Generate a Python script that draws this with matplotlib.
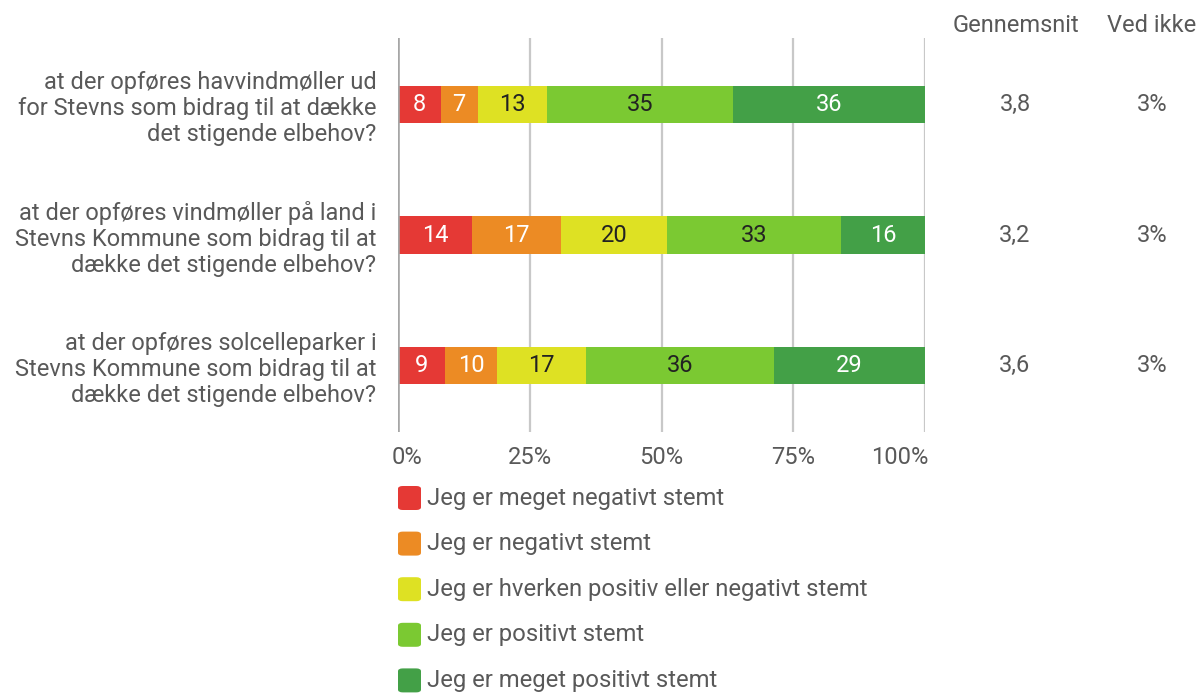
import matplotlib
matplotlib.use("Agg")
import matplotlib.pyplot as plt
from matplotlib.patches import FancyBboxPatch
from matplotlib.transforms import ScaledTranslation, blended_transform_factory
import numpy as np

plt.rcParams['font.family'] = ['Roboto', 'DejaVu Sans']

questions = [
    "at der opføres havvindmøller ud\nfor Stevns som bidrag til at dække\ndet stigende elbehov?",
    "at der opføres vindmøller på land i\nStevns Kommune som bidrag til at\ndække det stigende elbehov?",
    "at der opføres solcelleparker i\nStevns Kommune som bidrag til at\ndække det stigende elbehov?",
]
categories = [
    "Jeg er meget negativt stemt",
    "Jeg er negativt stemt",
    "Jeg er hverken positiv eller negativt stemt",
    "Jeg er positivt stemt",
    "Jeg er meget positivt stemt",
]
values = [
    [8, 7, 13, 35, 36],
    [14, 17, 20, 33, 16],
    [9, 10, 17, 36, 29],
]
averages = ["3,8", "3,2", "3,6"]
dont_know = ["3%", "3%", "3%"]
xticks = [0, 25, 50, 75, 100]
xticklabels = ["0%", "25%", "50%", "75%", "100%"]

colors = ["#E53935", "#EC8B24", "#DEE123", "#7BC932", "#43A047"]
label_colors = ["white", "white", "#222222", "#222222", "white"]
text_grey = "#595959"
FS = 17

W, H = 1200, 693
fig = plt.figure(figsize=(W / 100, H / 100), dpi=100)
ax = fig.add_axes([398 / W, 1 - 432 / H, 527 / W, 394 / H])

y = np.arange(len(questions))
for i, row in enumerate(values):
    total = sum(row)
    left = 0.0
    for j, v in enumerate(row):
        w = v / total * 100
        ax.barh(y[i], w, left=left, height=0.29, color=colors[j], zorder=3)
        ax.text(left + w / 2, y[i], str(v), ha="center", va="center",
                color=label_colors[j], fontsize=FS, zorder=4)
        left += w

ax.set_xlim(0, 100)
ax.set_ylim(2.51, -0.51)
for xt in xticks[1:]:
    ax.axvline(xt, color="#C8C8C8", lw=1.6, zorder=1)
ax.axvline(0, color="#A6A6A6", lw=2.6, zorder=5)
for s in ax.spines.values():
    s.set_visible(False)

# x tick labels: end labels kept inside the plotting range
ax.set_xticks([])
xlab_tr = blended_transform_factory(ax.transData, fig.transFigure)
for k, (xt, lab) in enumerate(zip(xticks, xticklabels)):
    ha = "center"
    off = 0
    if k == 0:
        ha, off = "left", -6
    elif k == len(xticks) - 1:
        ha, off = "right", 3
    ax.text(xt, 1 - 457 / H, lab, ha=ha, va="center", fontsize=FS,
            color=text_grey,
            transform=xlab_tr + ScaledTranslation(off / 100, 0, fig.dpi_scale_trans))

ax.set_yticks(y)
ax.set_yticklabels(questions, fontsize=FS, color=text_grey, linespacing=1.15)
ax.tick_params(axis="y", length=0, pad=15.5)

# Side columns: average score and "don't know" share
fig.text(1016 / W, 1 - 25 / H, "Gennemsnit", ha="center", va="center",
         fontsize=FS, color=text_grey)
fig.text(1152 / W, 1 - 25 / H, "Ved ikke", ha="center", va="center",
         fontsize=FS, color=text_grey)
col_tr = blended_transform_factory(fig.transFigure, ax.transData)
for i in range(len(questions)):
    ax.text(1015 / W, y[i], averages[i], ha="center", va="center", fontsize=FS,
            color=text_grey, transform=col_tr)
    ax.text(1152 / W, y[i], dont_know[i], ha="center", va="center", fontsize=FS,
            color=text_grey, transform=col_tr)

# Legend drawn as rounded swatches below the axis
for k, (cat, col) in enumerate(zip(categories, colors)):
    cy = 498 + k * 45.6
    fig.patches.append(FancyBboxPatch(
        (398 / W, 1 - (cy + 12) / H), 23 / W, 24 / H,
        boxstyle="round,pad=0,rounding_size=0.004", transform=fig.transFigure,
        facecolor=col, edgecolor="none"))
    fig.text(427 / W, 1 - cy / H, cat, ha="left", va="center",
             fontsize=17.2, color=text_grey)

fig.savefig("out.png", dpi=100, facecolor="white")
